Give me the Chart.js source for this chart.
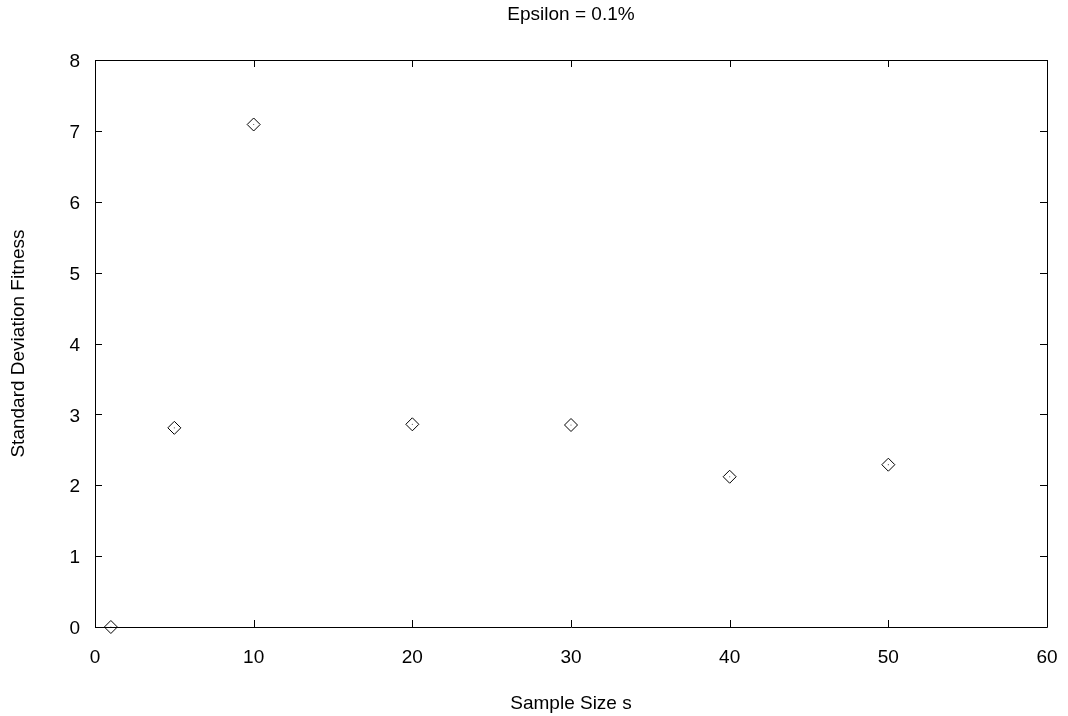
<!DOCTYPE html>
<html>
<head>
<meta charset="utf-8">
<script src="https://cdn.jsdelivr.net/npm/chart.js@4.4.1/dist/chart.umd.min.js"></script>
<style>
  html, body { margin: 0; padding: 0; background: #fff; }
  #wrap { width: 1068px; height: 716px; }
</style>
</head>
<body>
<div id="wrap"><canvas id="chart" width="1068" height="716"></canvas></div>
<script>
// values
const sampleSizes = [1, 5, 10, 20, 30, 40, 50];
const stdDevFitness = [0.0, 2.81, 7.09, 2.86, 2.85, 2.12, 2.29];

const chartTitle = 'Epsilon = 0.1%';
const xTitle = 'Sample Size s';
const yTitle = 'Standard Deviation Fitness';
const FONT = '"Liberation Sans", Arial, sans-serif';

const points = sampleSizes.map((s, i) => ({ x: s, y: stdDevFitness[i] }));

// gnuplot style frame: box round the plot, ticks pointing inward on all four sides
const framePlugin = {
    id: 'frame',
    afterDraw(chart) {
        const { ctx, chartArea: a, scales } = chart;
        const len = 7;
        ctx.save();
        ctx.strokeStyle = '#000';
        ctx.lineWidth = 1;
        ctx.beginPath();
        ctx.rect(a.left + 0.5, a.top + 0.5, a.right - a.left, a.bottom - a.top);
        scales.x.ticks.forEach(t => {
            const px = Math.round(scales.x.getPixelForValue(t.value)) + 0.5;
            ctx.moveTo(px, a.bottom);
            ctx.lineTo(px, a.bottom - len);
            ctx.moveTo(px, a.top);
            ctx.lineTo(px, a.top + len);
        });
        scales.y.ticks.forEach(t => {
            const py = Math.round(scales.y.getPixelForValue(t.value)) + 0.5;
            ctx.moveTo(a.left, py);
            ctx.lineTo(a.left + len, py);
            ctx.moveTo(a.right, py);
            ctx.lineTo(a.right - len, py);
        });
        ctx.stroke();

        ctx.fillStyle = '#000';
        ctx.font = '19px ' + FONT;
        ctx.textAlign = 'center';
        ctx.textBaseline = 'middle';
        ctx.fillText(chartTitle, (a.left + a.right) / 2, 15);
        ctx.restore();
    }
};

new Chart(document.getElementById('chart'), {
    type: 'scatter',
    data: {
        datasets: [
            {
                label: 'std dev',
                data: points,
                pointStyle: 'rectRot',
                pointRadius: 6.5,
                pointHoverRadius: 6.5,
                borderColor: '#000',
                borderWidth: 1,
                backgroundColor: 'rgba(0,0,0,0)',
                clip: false
            },
            {
                label: 'centre',
                data: points,
                pointStyle: 'circle',
                pointRadius: 0.6,
                borderWidth: 0,
                backgroundColor: '#555',
                clip: false
            }
        ]
    },
    options: {
        responsive: false,
        animation: false,
        layout: { padding: { top: 60, right: 21, left: 0, bottom: 0 } },
        plugins: {
            legend: { display: false },
            tooltip: { enabled: false },
            title: { display: false }
        },
        scales: {
            x: {
                type: 'linear',
                min: 0,
                max: 60,
                ticks: { stepSize: 10, padding: 19, color: '#000', font: { family: FONT, size: 19 } },
                grid: { display: false, drawTicks: false, tickLength: 0 },
                border: { display: false },
                title: { display: true, text: xTitle, color: '#000', font: { family: FONT, size: 19 }, padding: { top: 0, bottom: 1 } },
                afterFit(scale) {
                    scale.height = 89;
                    scale.paddingLeft = 0;
                    scale.paddingRight = 0;
                }
            },
            y: {
                type: 'linear',
                min: 0,
                max: 8,
                ticks: { stepSize: 1, padding: 15, labelOffset: 2, color: '#000', font: { family: FONT, size: 19 } },
                grid: { display: false, drawTicks: false, tickLength: 0 },
                border: { display: false },
                title: { display: true, text: yTitle, color: '#000', font: { family: FONT, size: 19 }, padding: { top: 7, bottom: 0 } },
                afterFit(scale) {
                    scale.width = 95;
                    scale.paddingTop = 0;
                    scale.paddingBottom = 0;
                }
            }
        }
    },
    plugins: [framePlugin]
});
</script>
</body>
</html>
